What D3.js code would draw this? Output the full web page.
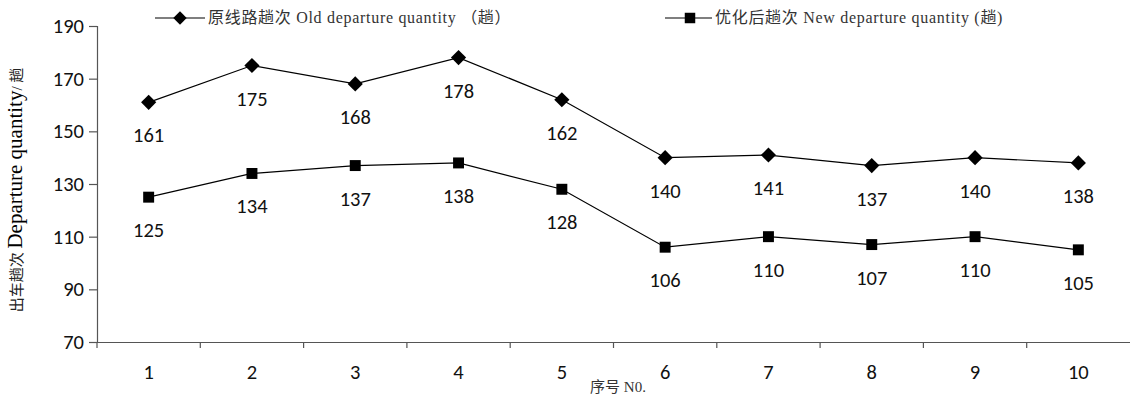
<!DOCTYPE html>
<html><head><meta charset="utf-8">
<script src="https://cdn.jsdelivr.net/npm/d3@7"></script>
<style>body{margin:0;background:#fff}</style>
</head><body>
<svg id="c" width="1130" height="400"></svg>
<script>
const categories = ["1","2","3","4","5","6","7","8","9","10"];
const oldValues = [161,175,168,178,162,140,141,137,140,138];
const newValues = [125,134,137,138,128,106,110,107,110,105];
const yTicks = [70,90,110,130,150,170,190];
const seriesNames = ["原线路趟次 Old departure quantity （趟）","优化后趟次 New departure quantity (趟)"];

const svg = d3.select("#c");
const x = d3.scaleBand().domain(categories).range([97,1130]);
const y = d3.scaleLinear().domain([70,190]).range([342,26]);
const numFont = "Carlito, 'Open Sans', 'DejaVu Sans', sans-serif";
const serif = "'Liberation Serif', 'Noto Sans CJK SC', serif";

// axes
const yAxis = svg.append("g").attr("transform","translate(97,0)")
  .call(d3.axisLeft(y).tickValues(yTicks).tickSize(8).tickPadding(5));
yAxis.selectAll("text").attr("font-family",numFont).attr("font-size",20.5).attr("fill","#111");
const xAxis = svg.append("g").attr("transform","translate(0,342)")
  .call(d3.axisBottom(x).tickSize(0).tickPadding(22));
xAxis.selectAll("text").attr("font-family",numFont).attr("font-size",20.5).attr("fill","#111");
// x boundary ticks
svg.append("g").selectAll("line").data(categories).join("line")
  .attr("x1",d=>x(d)).attr("x2",d=>x(d)).attr("y1",342).attr("y2",348)
  .attr("stroke","#555").attr("stroke-width",1.2);
svg.selectAll(".domain").attr("stroke","#555").attr("stroke-width",1.2);
svg.selectAll(".tick line").attr("stroke","#555").attr("stroke-width",1.2);

const cx = d=>x(d)+x.bandwidth()/2;
const line = d3.line().x((d,i)=>cx(categories[i])).y(d=>y(d));

function drawSeries(vals, diamond){
  svg.append("path").datum(vals).attr("d",line).attr("fill","none").attr("stroke","#000").attr("stroke-width",1.2);
  svg.append("g").selectAll("path").data(vals).join("path")
    .attr("d",d3.symbol().type(d3.symbolSquare).size(diamond?115:120))
    .attr("transform",(d,i)=>`translate(${cx(categories[i])},${y(d)})${diamond?" rotate(45)":""}`)
    .attr("fill","#000");
  svg.append("g").selectAll("text").data(vals).join("text")
    .attr("x",(d,i)=>cx(categories[i])).attr("y",d=>y(d)+40)
    .attr("text-anchor","middle").attr("font-family",numFont).attr("font-size",20.5).attr("fill","#111")
    .text(d=>d);
}
drawSeries(oldValues, true);
drawSeries(newValues, false);

// legend
const legend = [[155,205,180,seriesNames[0],true],[665,712,690,seriesNames[1],false]];
legend.forEach(([x1,x2,mx,label,diamond])=>{
  svg.append("line").attr("x1",x1).attr("x2",x2).attr("y1",18).attr("y2",18).attr("stroke","#000").attr("stroke-width",1.2);
  svg.append("path").attr("d",d3.symbol().type(d3.symbolSquare).size(diamond?90:110))
    .attr("transform",`translate(${mx},18)${diamond?" rotate(45)":""}`).attr("fill","#000");
  svg.append("text").attr("x",x2+3).attr("y",23).attr("font-family",serif).attr("font-size",16)
    .attr("letter-spacing",0.7).attr("fill","#333").text(label);
});

// y title
const yt = svg.append("text").attr("transform","translate(22,190) rotate(-90)").attr("text-anchor","middle")
  .attr("font-family",serif).attr("fill","#222");
yt.append("tspan").attr("font-size",15).text("出车趟次 ");
yt.append("tspan").attr("font-size",21).attr("fill","#000").text("Departure quantity");
yt.append("tspan").attr("font-size",15).text("/ 趟");
// x title
svg.append("text").attr("x",618).attr("y",392).attr("text-anchor","middle").attr("font-family",serif)
  .attr("font-size",15).attr("fill","#333").text("序号 N0.");
</script>
</body></html>
